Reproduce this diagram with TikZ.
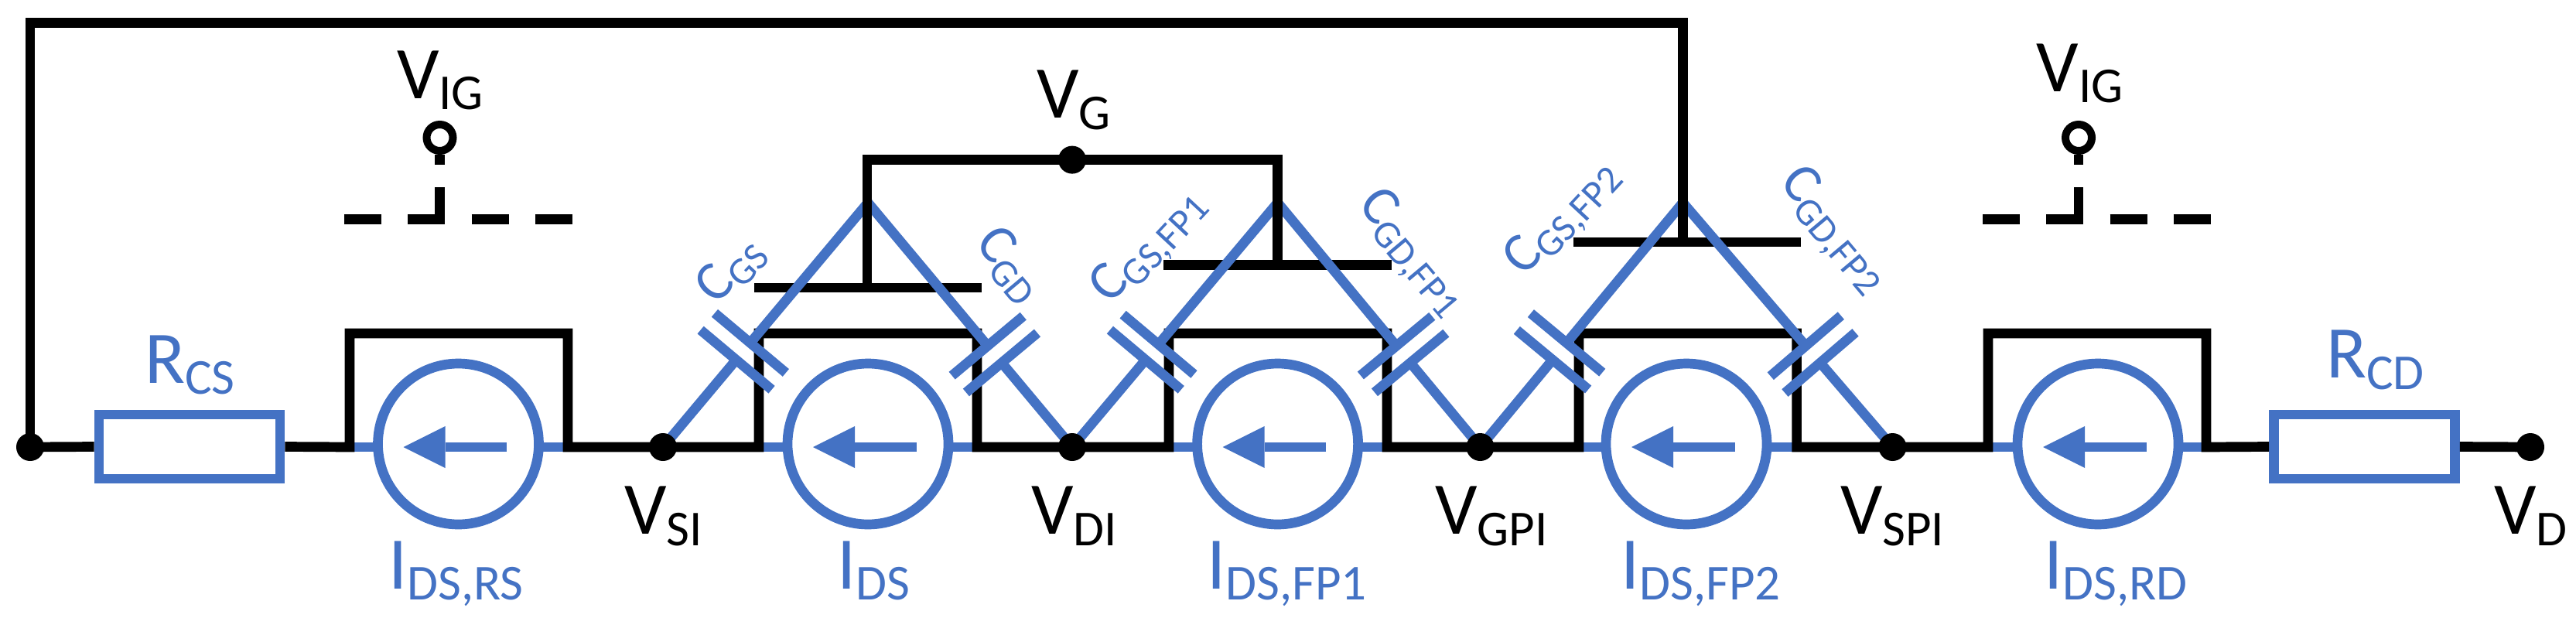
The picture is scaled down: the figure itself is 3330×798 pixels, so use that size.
\documentclass[tikz,border=0pt]{standalone}
\usepackage{fontspec}
\setmainfont{Carlito}
\usetikzlibrary{calc}
\definecolor{bl}{HTML}{4472C4}
\newcommand{\lab}[2]{{\fontsize{96}{96}\selectfont #1}\raisebox{-14.5pt}{\fontsize{65}{65}\selectfont #2}}
\newcommand{\clab}[2]{{\fontsize{72}{72}\selectfont #1}\raisebox{-11pt}{\fontsize{50}{50}\selectfont #2}}
\tikzset{
  wire/.style={line width=12.7pt,black,line join=miter},
  bwire/.style={line width=12.7pt,bl,line join=miter},
  junction/.style={circle,fill=black,draw=none,minimum size=36pt,inner sep=0pt},
  csource/.style={circle,draw=bl,line width=12.7pt,fill=white,minimum size=208pt,inner sep=0pt},
  resistor/.style={rectangle,draw=bl,line width=12.7pt,fill=white,minimum width=234pt,minimum height=83pt,inner sep=0pt},
  txt/.style={anchor=base west,inner sep=0pt,outer sep=0pt},
  tblack/.style={txt,text=black},
  tblue/.style={txt,text=bl},
}
% source: name, centre x, bracket left x, bracket right x
\newcommand{\placesource}[4]{%
  \coordinate (#1L) at (#3,578);
  \coordinate (#1R) at (#4,578);
  \coordinate (#1TL) at (#3,431);
  \coordinate (#1TR) at (#4,431);
  \draw[bwire] (#1L) -- (#1R);
  \node[csource] (#1) at (#2,574) {};
  \coordinate (#1a) at (#2+62.5,578);
  \coordinate (#1b) at (#2-17,578);
  \coordinate (#1t) at (#2-71,578);
  \coordinate (#1u) at (#2-17,551);
  \coordinate (#1d) at (#2-17,605);
  \draw[bwire] (#1a) -- (#1b);
  \fill[bl] (#1t) -- (#1u) -- (#1d) -- cycle;
}
% capacitor: from, to, name, near fraction, far fraction
\newcommand{\capac}[5]{%
  \coordinate (#3p) at ($(#1)!#4!(#2)$);
  \coordinate (#3q) at ($(#1)!#5!(#2)$);
  \draw[bwire] (#1) -- (#3p);
  \draw[bwire] (#3q) -- (#2);
  \draw[bwire] ($(#3p)!60pt!90:(#2)$) -- ($(#3p)!60pt!-90:(#2)$);
  \draw[bwire] ($(#3q)!60pt!90:(#2)$) -- ($(#3q)!60pt!-90:(#2)$);
}
\begin{document}
\begin{tikzpicture}[x=1pt,y=-1pt]
\useasboundingbox (0,0) rectangle (3330,798);
% junction positions
\coordinate (pL) at (39,578);
\coordinate (pSI) at (857,578);
\coordinate (pDI) at (1386,578);
\coordinate (pGPI) at (1913.5,578);
\coordinate (pSPI) at (2446.5,578);
\coordinate (pD) at (3271,578);
\coordinate (a1) at (1122,262);
\coordinate (a2) at (1651.6,262);
\coordinate (a3) at (2175.4,262);
% gate bars
\coordinate (g1l) at (975,372); \coordinate (g1r) at (1269,372); \coordinate (g1m) at (1121,372);
\coordinate (g2l) at (1504,342.5); \coordinate (g2r) at (1799,342.5); \coordinate (g2m) at (1651.6,342.5);
\coordinate (g3l) at (2034,313); \coordinate (g3r) at (2328,313); \coordinate (g3m) at (2175.4,313);
\draw[wire] (g1l) -- (g1r);
\draw[wire] (g2l) -- (g2r);
\draw[wire] (g3l) -- (g3r);
% sources
\placesource{s1}{592.5}{452}{734}
\placesource{s2}{1122}{981}{1263}
\placesource{s3}{1651.6}{1511}{1793}
\placesource{s4}{2180}{2041}{2322.6}
\placesource{s5}{2712}{2570}{2852}
% resistors
\node[resistor] (r1) at (245,577.5) {};
\node[resistor] (r2) at (3056.5,577.5) {};
% main wire
\draw[wire] (pL) -- (r1.west);
\draw[wire] (r1.east) -- (s1L) -- (s1TL) -- (s1TR) -- (s1R) -- (pSI) -- (s2L) -- (s2TL) -- (s2TR) -- (s2R) -- (pDI) -- (s3L) -- (s3TL) -- (s3TR) -- (s3R) -- (pGPI) -- (s4L) -- (s4TL) -- (s4TR) -- (s4R) -- (pSPI) -- (s5L) -- (s5TL) -- (s5TR) -- (s5R) -- (r2.west);
\draw[wire] (r2.east) -- (pD);
% capacitors
\capac{pSI}{a1}{c1}{0.357}{0.426}
\capac{pDI}{a1}{c2}{0.345}{0.414}
\capac{pDI}{a2}{c3}{0.357}{0.42}
\capac{pGPI}{a2}{c4}{0.345}{0.414}
\capac{pGPI}{a3}{c5}{0.357}{0.426}
\capac{pSPI}{a3}{c6}{0.345}{0.414}
% gate stems lie over the capacitor leads
\coordinate (g1t) at (1121,206.6);
\coordinate (g2t) at (1651.6,206.6);
\draw[wire] (g1m) -- (g1t) -- (g2t) -- (g2m);
\coordinate (tr) at (2175.4,29.5);
\coordinate (tl) at (39,29.5);
\draw[wire] (g3m) -- (tr) -- (tl) -- (pL);
% junctions
\node[junction] (jL) at (pL) {};
\node[junction] (jSI) at (pSI) {};
\node[junction] (jDI) at (pDI) {};
\node[junction] (jGPI) at (pGPI) {};
\node[junction] (jSPI) at (pSPI) {};
\node[junction] (jD) at (pD) {};
\node[junction] (jG) at (1386,206.6) {};
% inner gates
\foreach \n/\x/\ya/\yb in {i/568.5/289/242, k/2687/289/242}{
  \coordinate (\n v) at (\x,\yb);
  \coordinate (\n b) at (\x,\ya);
  \draw[wire] (\n v) -- (\n b);
  \node[circle,draw=black,line width=10pt,minimum size=34pt,inner sep=0pt] (\n t) at (\x,178) {};
  \coordinate (\n s) at (\x,213);
  \draw[wire] (\n t) -- (\n s);
}
\coordinate (id1) at (445,283.5); \coordinate (id2) at (740,283.5);
\coordinate (kd1) at (2563,283.5); \coordinate (kd2) at (2858.6,283.5);
\draw[wire,dash pattern=on 48pt off 34.3pt] (id1) -- (id2);
\draw[wire,dash pattern=on 48pt off 34.3pt] (kd1) -- (kd2);
% labels
\node[tblack] (lIGa) at (513,127) {\lab{V}{IG}};
\node[tblack] (lIGb) at (2632.7,118) {\lab{V}{IG}};
\node[tblack] (lG) at (1340,152.7) {\lab{V}{G}};
\node[tblack] (lSI) at (807,690.6) {\lab{V}{SI}};
\node[tblack] (lDI) at (1333,690.6) {\lab{V}{DI}};
\node[tblack] (lGPI) at (1855.4,690.6) {\lab{V}{GPI}};
\node[tblack] (lSPI) at (2379,690.6) {\lab{V}{SPI}};
\node[tblack] (lD) at (3224,690.6) {\lab{V}{D}};
\node[tblue] (lRCS) at (187,495) {\lab{R}{CS}};
\node[tblue] (lRCD) at (3007,488.5) {\lab{R}{CD}};
\node[tblue] (lI1) at (502,761) {\lab{I}{DS,RS}};
\node[tblue] (lI2) at (1082,761) {\lab{I}{DS}};
\node[tblue] (lI3) at (1560,761) {\lab{I}{DS,FP1}};
\node[tblue] (lI4) at (2095,761) {\lab{I}{DS,FP2}};
\node[tblue] (lI5) at (2642,761) {\lab{I}{DS,RD}};
\node[tblue,rotate=47] (lc1) at (926,395) {\clab{C}{GS}};
\node[tblue,rotate=-50] (lc2) at (1259,315) {\clab{C}{GD}};
\node[tblue,rotate=47] (lc3) at (1435.5,394.6) {\clab{C}{GS,FP1}};
\node[tblue,rotate=-50] (lc4) at (1754,265) {\clab{C}{GD,FP1}};
\node[tblue,rotate=47] (lc5) at (1970,358) {\clab{C}{GS,FP2}};
\node[tblue,rotate=-50] (lc6) at (2299,236) {\clab{C}{GD,FP2}};
\end{tikzpicture}
\end{document}
